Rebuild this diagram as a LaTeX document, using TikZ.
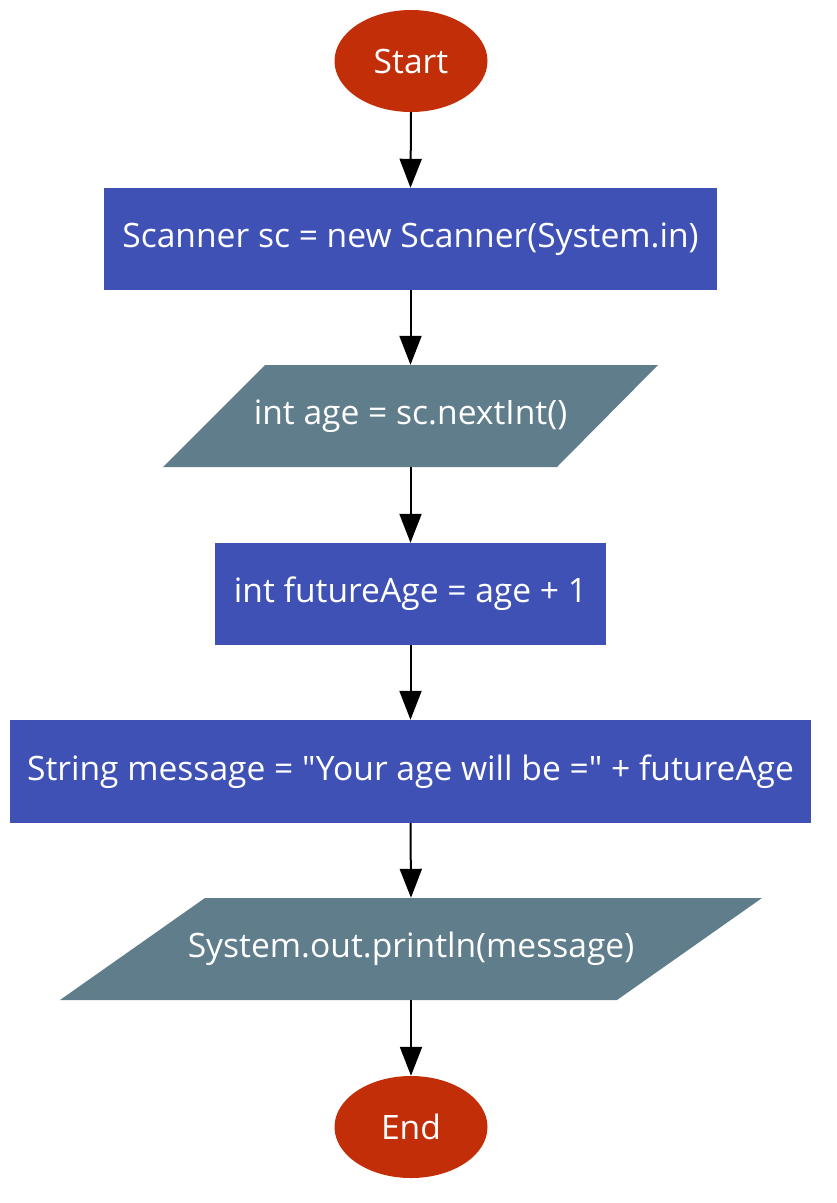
\documentclass[tikz,border=0pt]{standalone}
\usepackage{fontspec}
\setmainfont{Open Sans}[Ligatures=TeXOff]
\usetikzlibrary{shapes.geometric,arrows.meta}
\definecolor{termred}{HTML}{C22E08}
\definecolor{procblue}{HTML}{3F51B5}
\definecolor{iogrey}{HTML}{607D8B}
\tikzset{
  lbl/.style={text=white,font=\fontsize{33.6}{40}\selectfont,inner sep=0pt},
  term/.style={lbl,ellipse,fill=termred,minimum width=153pt,minimum height=102pt},
  proc/.style={lbl,rectangle,fill=procblue,minimum height=102pt},
  io/.style={lbl,rectangle,minimum height=102pt},
  flow/.style={line width=2pt,-{Triangle[length=29pt,width=22pt]}}
}
\begin{document}
\begin{tikzpicture}[x=1pt,y=-1pt]
\useasboundingbox (0,0) rectangle (836,1203);
\node[term] (start) at (411,61) {Start};
\node[proc,minimum width=613pt] (scan) at (410.5,239) {Scanner sc = new Scanner(System.in)};
\fill[iogrey] (265,365) -- (658,365) -- (557,467) -- (163,467) -- cycle;
\node[io,minimum width=300pt] (age) at (410.5,416) {int age = sc.nextInt()};
\node[proc,minimum width=391pt] (future) at (410.5,594) {int futureAge = age + 1};
\node[proc,minimum width=801pt,minimum height=103pt] (msg) at (410.5,771.5) {String message = "Your age will be =" + futureAge};
\fill[iogrey] (205,898) -- (762,898) -- (617,1000) -- (60,1000) -- cycle;
\node[io,minimum width=400pt] (print) at (411,949) {System.out.println(message)};
\node[term] (end) at (411,1127) {End};
\draw[flow] (start.south) -- (scan.north);
\draw[flow] (scan.south) -- (age.north);
\draw[flow] (age.south) -- (future.north);
\draw[flow] (future.south) -- (msg.north);
\draw[flow] (msg.south) -- (print.north);
\draw[flow] (print.south) -- (end.north);
\end{tikzpicture}
\end{document}
